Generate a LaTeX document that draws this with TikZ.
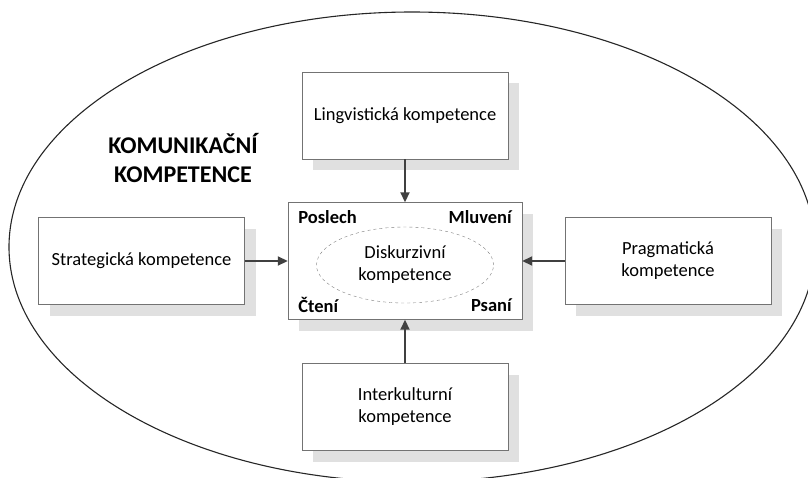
\documentclass[tikz,border=0pt]{standalone}
\usepackage{fontspec}
\setmainfont{Carlito}
\usetikzlibrary{shapes.geometric,shadows,arrows.meta}

\begin{document}
\begin{tikzpicture}[x=1pt,y=-1pt]
    \tikzset{
      box/.style={draw=black!55, fill=white, align=center, minimum width=206pt, minimum height=87pt,
        font=\fontsize{18.5}{22}\selectfont,
        drop shadow={shadow xshift=11pt, shadow yshift=-11pt, fill=black!12, opacity=1}},
      corner/.style={font=\bfseries\fontsize{18.5}{22}\selectfont},
      arr/.style={-{Triangle[length=10pt,width=9pt]}, line width=1.8pt, black!75}
    }
    \useasboundingbox (0,0) rectangle (808,477);
    \clip (0,0) rectangle (808,477);
    \draw[line width=1.1pt, black!85] (412,247) ellipse [x radius=403, y radius=235];
    \node[font=\bfseries\fontsize{24}{29}\selectfont, align=center] (titul) at (183,158) {KOMUNIKAČNÍ\\KOMPETENCE};
    \node[box] (lingv) at (405,115.5) {Lingvistická kompetence};
    \node[box] (strat) at (141.5,261) {Strategická kompetence};
    \node[box] (pragm) at (668,261) {Pragmatická\\kompetence};
    \node[box] (interk) at (405,407) {Interkulturní\\kompetence};
    \node[box, minimum width=234pt, minimum height=117pt] (jadro) at (405,261) {};
    \node[ellipse, draw=black!50, dashed, minimum width=177pt, minimum height=76pt, align=center,
      font=\fontsize{18.5}{22}\selectfont, inner sep=0pt] (diskurz) at (405,265) {Diskurzivní\\kompetence};
    \node[corner, anchor=west] (poslech) at ([xshift=7pt,yshift=-15pt]jadro.north west) {Poslech};
    \node[corner, anchor=east] (mluveni) at ([xshift=-7pt,yshift=-15pt]jadro.north east) {Mluvení};
    \node[corner, anchor=west] (cteni) at ([xshift=7pt,yshift=15pt]jadro.south west) {Čtení};
    \node[corner, anchor=east] (psani) at ([xshift=-7pt,yshift=15pt]jadro.south east) {Psaní};
    \draw[arr] (lingv) -- (jadro);
    \draw[arr] (strat) -- (jadro);
    \draw[arr] (pragm) -- (jadro);
    \draw[arr] (interk) -- (jadro);
  \end{tikzpicture}
\end{document}
